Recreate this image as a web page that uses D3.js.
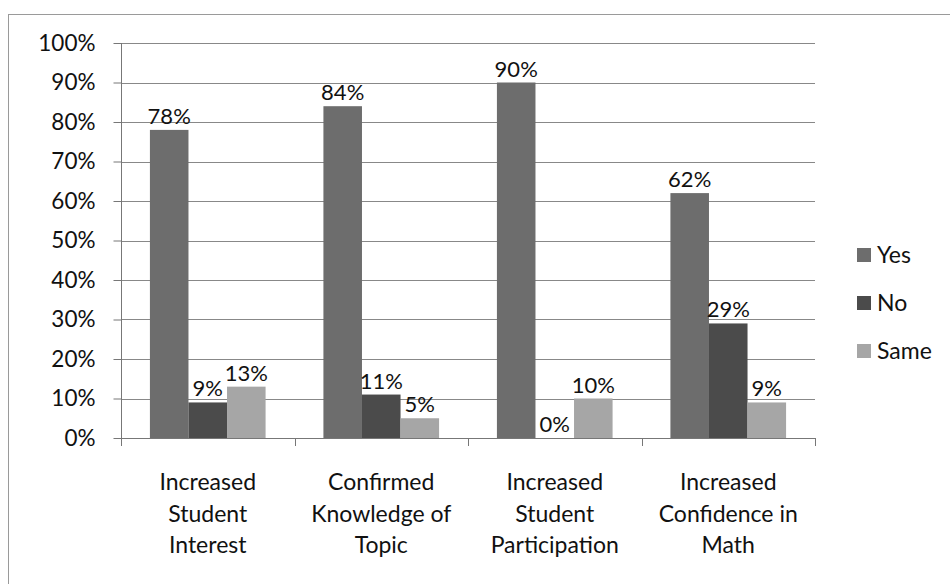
<!DOCTYPE html>
<html><head><meta charset="utf-8">
<script src="https://cdn.jsdelivr.net/npm/d3@7"></script>
<style>body{margin:0;background:#fff}svg{display:block}text{font-family:Lato,"Open Sans",sans-serif;fill:#111}</style>
</head><body><svg id="c" width="950" height="584"></svg>
<script>
const categories = [["Increased","Student","Interest"],["Confirmed","Knowledge of","Topic"],["Increased","Student","Participation"],["Increased","Confidence in","Math"]];
const seriesNames = ["Yes","No","Same"];
const yesValues = [78,84,90,62];
const noValues = [9,11,0,29];
const sameValues = [13,5,10,9];
const yTicks = [0,10,20,30,40,50,60,70,80,90,100];
const colors = ["#6d6d6d","#4b4b4b","#a6a6a6"];
const values = [yesValues,noValues,sameValues];

(function(){
const svg = d3.select("#c");
svg.append("rect").attr("x",8.5).attr("y",14.5).attr("width",960).attr("height",600).attr("fill","none").attr("stroke","#9a9a9a").attr("stroke-width",1);

const pL=121,pR=815,pT=43,pB=438;
const x0 = d3.scaleBand().domain(d3.range(categories.length)).range([pL,pR]).paddingInner(0).paddingOuter(0);
const x1 = d3.scaleBand().domain(d3.range(seriesNames.length)).range([0,x0.bandwidth()]).paddingInner(0).paddingOuter(0.75);
const y = d3.scaleLinear().domain([0,100]).range([pB,pT]);

svg.append("g").selectAll("line").data(yTicks.filter(t=>t>0)).join("line")
  .attr("x1",pL).attr("x2",pR).attr("y1",d=>Math.round(y(d))+0.5).attr("y2",d=>Math.round(y(d))+0.5)
  .attr("stroke","#888").attr("stroke-width",1);

const ya = svg.append("g").attr("transform",`translate(${pL+0.5},0)`)
  .call(d3.axisLeft(y).tickValues(yTicks).tickFormat(d=>d+"%").tickSize(8).tickPadding(18));
ya.select(".domain").attr("stroke","#777").attr("d",`M0,${pT}V${pB}`);
ya.selectAll(".tick line").attr("stroke","#777");
ya.selectAll(".tick text").style("font-size","22.5px").attr("fill","#111").style("font-family","Lato,'Open Sans',sans-serif");

const g = svg.append("g");
values.forEach((vals,si)=>{
  g.selectAll(null).data(vals).join("rect")
    .attr("x",(d,i)=>x0(i)+x1(si)).attr("width",x1.bandwidth())
    .attr("y",d=>y(d)).attr("height",d=>pB-y(d)).attr("fill",colors[si]);
  g.selectAll(null).data(vals).join("text")
    .attr("x",(d,i)=>x0(i)+x1(si)+x1.bandwidth()/2).attr("y",d=>y(d)-6)
    .attr("text-anchor","middle").style("font-size","22px").text(d=>d+"%");
});

svg.append("line").attr("x1",pL).attr("x2",pR).attr("y1",pB+0.5).attr("y2",pB+0.5).attr("stroke","#777");
svg.append("g").selectAll("line").data(d3.range(categories.length+1)).join("line")
  .attr("x1",i=>Math.round(i<categories.length?x0(i):pR)+0.5).attr("x2",i=>Math.round(i<categories.length?x0(i):pR)+0.5)
  .attr("y1",pB).attr("y2",pB+8).attr("stroke","#777");
const cl = svg.append("g");
categories.forEach((lines,i)=>{
  const cx = x0(i)+x0.bandwidth()/2;
  const t = cl.append("text").attr("x",cx).attr("y",490).attr("text-anchor","middle").style("font-size","23px");
  lines.forEach((ln,j)=>t.append("tspan").attr("x",cx).attr("dy",j?31.5:0).text(ln));
});

const lg = svg.append("g");
const legY = [255,303,351];
seriesNames.forEach((n,i)=>{
  lg.append("rect").attr("x",857).attr("y",legY[i]-7).attr("width",14).attr("height",14).attr("fill",colors[i]);
  lg.append("text").attr("x",877).attr("y",legY[i]+8).style("font-size","23px").text(n);
});
})();
</script></body></html>
